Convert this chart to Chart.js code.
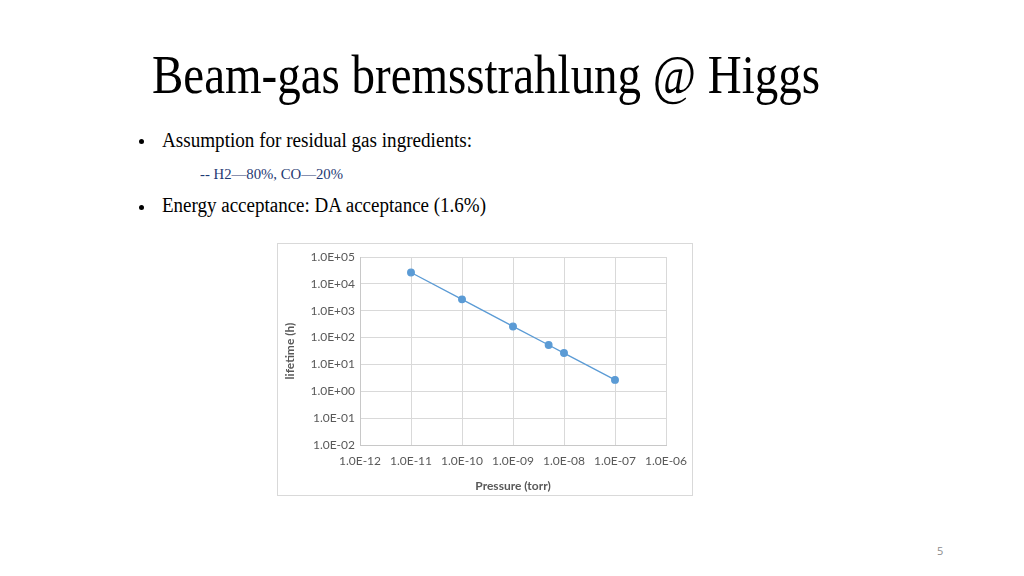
<!DOCTYPE html>
<html>
<head>
<meta charset="utf-8">
<script src="https://cdn.jsdelivr.net/npm/chart.js@4.4.1/dist/chart.umd.min.js"></script>
<style>
  html, body { margin: 0; padding: 0; background: #fff; }
  body { width: 1024px; height: 576px; position: relative; overflow: hidden; }
  .txt { position: absolute; white-space: nowrap; font-family: "Liberation Serif", "Times New Roman", serif; color: #000; line-height: 1; transform-origin: 0 50%; }
  #title { left: 152px; top: 48px; font-size: 54px; }
  .b1 { left: 162px; top: 130px; font-size: 20px; }
  .sub { left: 200px; top: 167px; font-size: 14.5px; color: #1f3a73; }
  .b2 { left: 162px; top: 195px; font-size: 20px; }
  .dot { position: absolute; width: 5px; height: 5px; border-radius: 50%; background: #000; }
  #box { position: absolute; left: 277px; top: 243px; width: 416px; height: 253px; box-sizing: border-box; border: 1px solid #d9d9d9; background: #fff; }
  #pg { position: absolute; left: 937px; top: 543px; font-family: "Open Sans", sans-serif; font-size: 11px; color: #8c8c8c; }
</style>
</head>
<body>
<div id="title" class="txt" data-w="668">Beam-gas bremsstrahlung @ Higgs</div>
<div class="dot" style="left:139px;top:139px"></div>
<div class="txt b1" data-w="310">Assumption for residual gas ingredients:</div>
<div class="txt sub" data-w="143">-- H2—80%, CO—20%</div>
<div class="dot" style="left:139px;top:205px"></div>
<div class="txt b2" data-w="324">Energy acceptance: DA acceptance (1.6%)</div>
<div id="box"><canvas id="chart" width="414" height="251"></canvas></div>
<div id="pg">5</div>
<script>
// fit the slide texts to the widths seen on the slide
document.querySelectorAll('.txt[data-w]').forEach(el => {
  const w = el.getBoundingClientRect().width;
  el.style.transform = `scaleX(${(+el.dataset.w / w).toFixed(4)})`;
});

/* ====== data ====== */
const pressure = [1e-11, 1e-10, 1e-9, 5e-9, 1e-8, 1e-7];      // torr
const lifetime = [2.65e4, 2.65e3, 2.6e2, 53, 26.5, 2.65];      // h
const xTicks = [1e-12, 1e-11, 1e-10, 1e-9, 1e-8, 1e-7, 1e-6];
const yTicks = [1e-2, 1e-1, 1e0, 1e1, 1e2, 1e3, 1e4, 1e5];

function sciLabel(v) {
  const e = Math.round(Math.log10(v));
  const sign = e < 0 ? '-' : '+';
  return '1.0E' + sign + String(Math.abs(e)).padStart(2, '0');
}

const axisGrey = '#595959';
const gridGrey = '#d9d9d9';

new Chart(document.getElementById('chart'), {
  type: 'line',
  data: {
    datasets: [{
      label: 'lifetime',
      data: pressure.map((p, i) => ({ x: p, y: lifetime[i] })),
      borderColor: '#5b9bd5',
      backgroundColor: '#5b9bd5',
      borderWidth: 1.3,
      pointRadius: 3.3,
      pointHoverRadius: 3.3,
      tension: 0
    }]
  },
  options: {
    responsive: false,
    animation: false,
    layout: { padding: { top: 13, right: 26, bottom: 0, left: 0 } },
    plugins: { legend: { display: false }, tooltip: { enabled: false } },
    scales: {
      x: {
        type: 'logarithmic',
        min: xTicks[0],
        max: xTicks[xTicks.length - 1],
        afterBuildTicks: s => { s.ticks = xTicks.map(v => ({ value: v })); },
        afterFit: s => { s.height = 50; s.paddingLeft = 0; s.paddingRight = 0; },
        grid: { color: gridGrey, drawTicks: false },
        border: { color: '#c8c8c8' },
        ticks: { padding: 9, color: axisGrey, font: { family: 'Lato', size: 12 }, callback: v => sciLabel(v), maxRotation: 0, autoSkip: false },
        title: { display: true, text: 'Pressure (torr)', color: axisGrey, font: { family: 'Lato', size: 12, weight: 'bold' }, padding: { top: 0, bottom: 2 } }
      },
      y: {
        type: 'logarithmic',
        min: yTicks[0],
        max: yTicks[yTicks.length - 1],
        afterBuildTicks: s => { s.ticks = yTicks.map(v => ({ value: v })); },
        afterFit: s => { s.width = 82; s.paddingTop = 0; s.paddingBottom = 0; },
        grid: { color: gridGrey, drawTicks: false },
        border: { color: '#c8c8c8' },
        ticks: { padding: 5, color: axisGrey, font: { family: 'Lato', size: 12 }, callback: v => sciLabel(v), autoSkip: false },
        title: { display: true, text: 'lifetime (h)', color: axisGrey, font: { family: 'Lato', size: 12, weight: 'bold' }, padding: { top: 5, bottom: 0 } }
      }
    }
  }
});
</script>
</body>
</html>
